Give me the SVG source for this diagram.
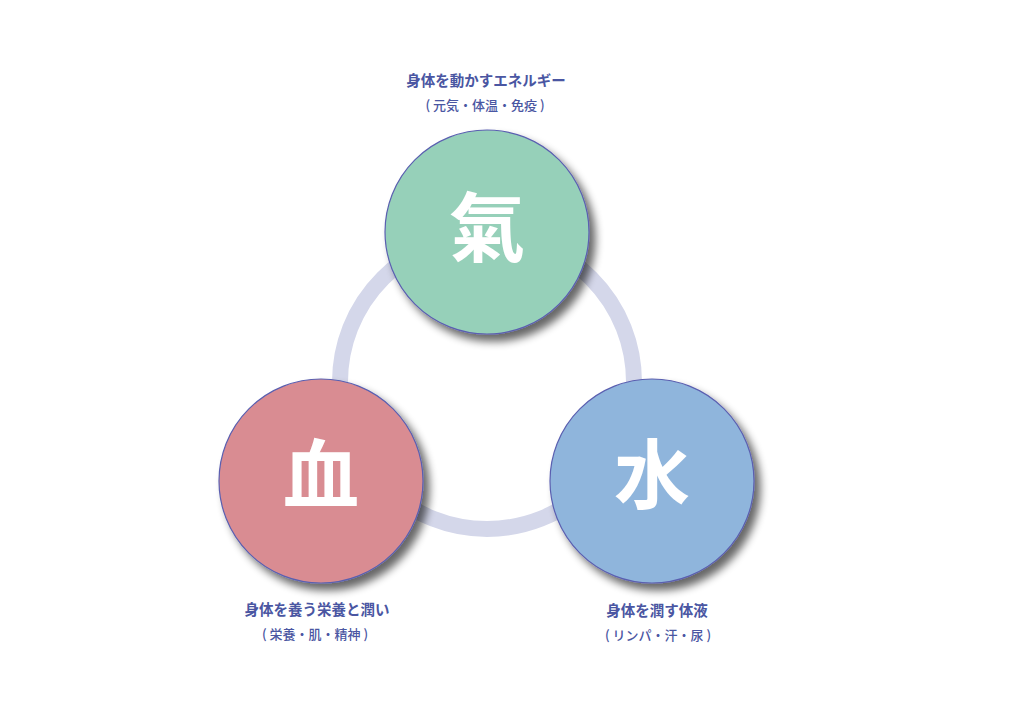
<svg xmlns="http://www.w3.org/2000/svg" width="1024" height="724" viewBox="0 0 1024 724">
  <defs>
    <filter id="shadow" x="-20%" y="-20%" width="150%" height="150%">
      <feGaussianBlur in="SourceAlpha" stdDeviation="4"/>
      <feOffset dx="6" dy="7" result="b"/>
      <feComponentTransfer><feFuncA type="linear" slope="0.6"/></feComponentTransfer>
      <feMerge><feMergeNode/><feMergeNode in="SourceGraphic"/></feMerge>
    </filter>
  </defs>
  <style>
    .circle { stroke: #5a5fb0; stroke-width: 1.2; filter: url(#shadow); }
    .big { font-family: "Noto Sans CJK JP", "Liberation Serif", serif; font-size: 76px; font-weight: 700; fill: #ffffff; text-anchor: middle; }
    .title { font-family: "Noto Sans CJK JP", "Liberation Sans", sans-serif; font-size: 14.5px; font-weight: 700; fill: #4a56a2; text-anchor: middle; }
    .sub { font-family: "Noto Sans CJK JP", "Liberation Sans", sans-serif; font-size: 13px; font-weight: 500; fill: #4a56a2; text-anchor: middle; }
  </style>
  <rect width="1024" height="724" fill="#ffffff"/>
  <g id="connectors">
    <circle cx="487" cy="382" r="147" fill="none" stroke="#d4d7ea" stroke-width="16"/>
  </g>
  <g id="node-ki">
    <circle class="circle" cx="487" cy="232" r="102" fill="#96d0b9"/>
    <text class="big" x="487" y="256">氣</text>
    <text class="title" x="486" y="86">身体を動かすエネルギー</text>
    <text class="sub" x="485" y="110">( 元気・体温・免疫 )</text>
  </g>
  <g id="node-ketsu">
    <circle class="circle" cx="321" cy="481" r="102" fill="#d98c92"/>
    <text class="big" x="321" y="503">血</text>
    <text class="title" x="317" y="615">身体を養う栄養と潤い</text>
    <text class="sub" x="315" y="639">( 栄養・肌・精神 )</text>
  </g>
  <g id="node-sui">
    <circle class="circle" cx="652" cy="481" r="102" fill="#8fb5dc"/>
    <text class="big" x="652" y="503">水</text>
    <text class="title" x="657" y="616">身体を潤す体液</text>
    <text class="sub" x="658" y="640">( リンパ・汗・尿 )</text>
  </g>
</svg>
